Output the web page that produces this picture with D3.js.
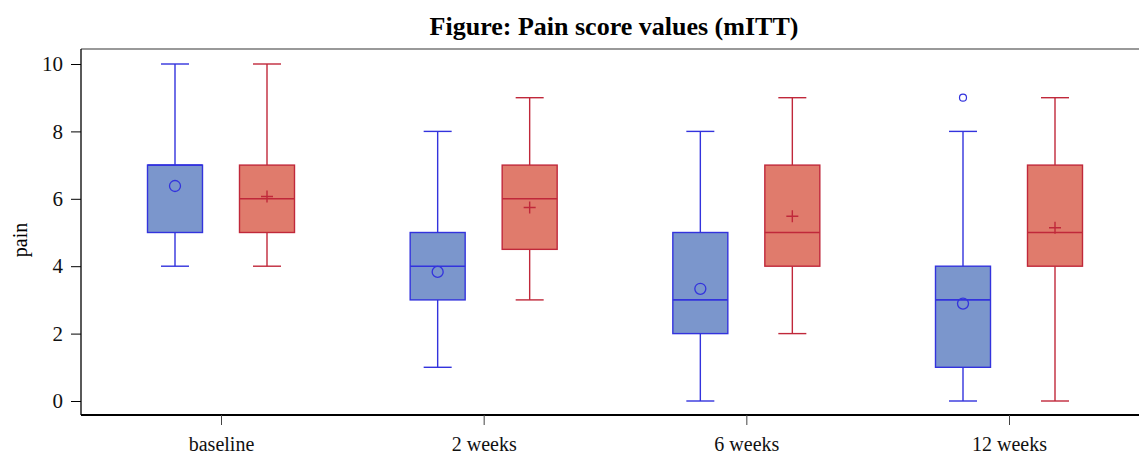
<!DOCTYPE html>
<html>
<head>
<meta charset="utf-8">
<script src="https://cdn.jsdelivr.net/npm/d3@7"></script>
<style>
  body { margin: 0; background: #fff; }
  svg { display: block; font-family: "Liberation Serif", "Times New Roman", serif; }
</style>
</head>
<body>
<svg id="chart" width="1139" height="457"></svg>
<script>
// Visits on the x axis
const visits = ["baseline", "2 weeks", "6 weeks", "12 weeks"];
const yTicks = [0, 2, 4, 6, 8, 10];

// Group A (blue) five-number summaries, means and outliers per visit
const aMin    = [4, 1, 0, 0];
const aQ1     = [5, 3, 2, 1];
const aMedian = [7, 4, 3, 3];
const aQ3     = [7, 5, 5, 4];
const aMax    = [10, 8, 8, 8];
const aMean   = [6.38, 3.83, 3.33, 2.89];
const aOutliers = [[], [], [], [9]];

// Group B (red)
const bMin    = [4, 3, 2, 0];
const bQ1     = [5, 4.5, 4, 4];
const bMedian = [6, 6, 5, 5];
const bQ3     = [7, 7, 7, 7];
const bMax    = [10, 9, 9, 9];
const bMean   = [6.07, 5.74, 5.48, 5.14];
const bOutliers = [[], [], [], []];

const svg = d3.select("#chart");
const plotLeft = 81, plotRight = 1139, plotTop = 49, plotBottom = 415;

const x = d3.scalePoint().domain(visits).range([221, 1009]);
const y = d3.scaleLinear().domain([0, 10]).range([401, 64]);

// Title
svg.append("text")
  .attr("x", 614).attr("y", 35)
  .attr("text-anchor", "middle")
  .attr("font-weight", "bold")
  .attr("font-size", 26)
  .text("Figure: Pain score values (mITT)");

// Frame top line
svg.append("line")
  .attr("x1", plotLeft).attr("x2", plotRight).attr("y1", plotTop).attr("y2", plotTop)
  .attr("stroke", "#777").attr("stroke-width", 1.3);

// Y axis
const yAxis = svg.append("g")
  .attr("transform", `translate(${plotLeft},0)`)
  .call(d3.axisLeft(y).tickValues(yTicks).tickSize(10).tickPadding(8));
yAxis.select(".domain").attr("d", `M0,${plotTop}V${plotBottom}`).attr("stroke", "#000").attr("stroke-width", 1.3);
yAxis.selectAll(".tick text").attr("font-size", 21).attr("fill", "#111").attr("font-family", "Liberation Serif, serif");
yAxis.selectAll(".tick line").attr("stroke", "#000");

// X axis
const xAxis = svg.append("g")
  .attr("transform", `translate(0,${plotBottom})`)
  .call(d3.axisBottom(x).tickSize(10).tickPadding(12));
xAxis.select(".domain").attr("d", `M${plotLeft},0H${plotRight}`).attr("stroke", "#000").attr("stroke-width", 1.8);
xAxis.selectAll(".tick text").attr("font-size", 20).attr("fill", "#111").attr("font-family", "Liberation Serif, serif");
xAxis.selectAll(".tick line").attr("stroke", "#444");

// Y axis title
svg.append("text")
  .attr("transform", "translate(27,240) rotate(-90)")
  .attr("text-anchor", "middle")
  .attr("font-size", 20)
  .text("pain");

const boxW = 55, capW = 28, offset = 46;

const groups = [
  { dx: -offset, min: aMin, q1: aQ1, med: aMedian, q3: aQ3, max: aMax, mean: aMean, out: aOutliers,
    fill: "#7b96cc", stroke: "#3333dd", marker: "circle" },
  { dx: offset, min: bMin, q1: bQ1, med: bMedian, q3: bQ3, max: bMax, mean: bMean, out: bOutliers,
    fill: "#e07b6c", stroke: "#c0283a", marker: "plus" }
];

groups.forEach(g => {
  visits.forEach((v, i) => {
    const cx = x(v) + g.dx;
    const grp = svg.append("g");
    // whiskers
    grp.append("line").attr("x1", cx).attr("x2", cx).attr("y1", y(g.max[i])).attr("y2", y(g.q3[i]))
      .attr("stroke", g.stroke).attr("stroke-width", 1.4);
    grp.append("line").attr("x1", cx).attr("x2", cx).attr("y1", y(g.q1[i])).attr("y2", y(g.min[i]))
      .attr("stroke", g.stroke).attr("stroke-width", 1.4);
    grp.append("line").attr("x1", cx - capW / 2).attr("x2", cx + capW / 2).attr("y1", y(g.max[i])).attr("y2", y(g.max[i]))
      .attr("stroke", g.stroke).attr("stroke-width", 1.4);
    grp.append("line").attr("x1", cx - capW / 2).attr("x2", cx + capW / 2).attr("y1", y(g.min[i])).attr("y2", y(g.min[i]))
      .attr("stroke", g.stroke).attr("stroke-width", 1.4);
    // box
    grp.append("rect").attr("x", cx - boxW / 2).attr("width", boxW)
      .attr("y", y(g.q3[i])).attr("height", y(g.q1[i]) - y(g.q3[i]))
      .attr("fill", g.fill).attr("stroke", g.stroke).attr("stroke-width", 1.4);
    // median
    grp.append("line").attr("x1", cx - boxW / 2).attr("x2", cx + boxW / 2).attr("y1", y(g.med[i])).attr("y2", y(g.med[i]))
      .attr("stroke", g.stroke).attr("stroke-width", 1.6);
    // mean marker
    const my = y(g.mean[i]);
    if (g.marker === "circle") {
      grp.append("circle").attr("cx", cx).attr("cy", my).attr("r", 5.5)
        .attr("fill", "none").attr("stroke", g.stroke).attr("stroke-width", 1.3);
    } else {
      grp.append("path").attr("d", `M${cx - 6},${my}H${cx + 6}M${cx},${my - 6}V${my + 6}`)
        .attr("stroke", g.stroke).attr("stroke-width", 1.4).attr("fill", "none");
    }
    // outliers
    g.out[i].forEach(o => {
      grp.append("circle").attr("cx", cx).attr("cy", y(o)).attr("r", 3.5)
        .attr("fill", "none").attr("stroke", g.stroke).attr("stroke-width", 1.2);
    });
  });
});
</script>
</body>
</html>
